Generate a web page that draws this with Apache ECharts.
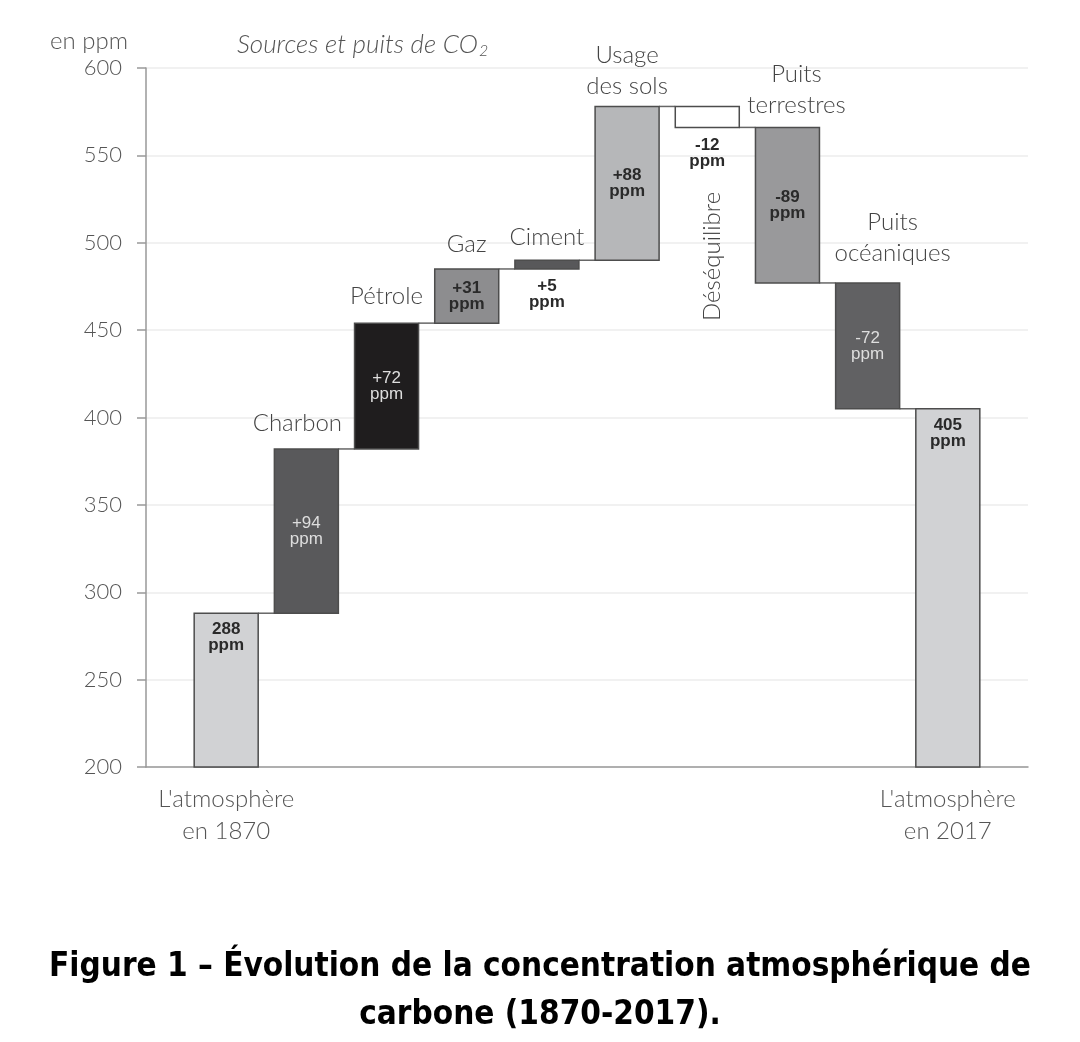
<!DOCTYPE html>
<html>
<head>
<meta charset="utf-8">
<script src="https://cdn.jsdelivr.net/npm/echarts@6/dist/echarts.min.js"></script>
<style>
  html, body { margin: 0; padding: 0; background: #fff; }
  #main { width: 1080px; height: 1042px; }
</style>
</head>
<body>
<div id="main"></div>
<script>
// data
var xLabels = ["L'atmosphère\nen 1870", '', '', '', '', '', '', '', '', "L'atmosphère\nen 2017"];
var barNames = ['', 'Charbon', 'Pétrole', 'Gaz', 'Ciment', 'Usage\ndes sols', 'Déséquilibre', 'Puits\nterrestres', 'Puits\nocéaniques', ''];
var changes = [288, 94, 72, 31, 5, 88, -12, -89, -72, 405];
var isTotal = [true, false, false, false, false, false, false, false, false, true];
var valueLabels = ['288\nppm', '+94\nppm', '+72\nppm', '+31\nppm', '+5\nppm', '+88\nppm', '-12\nppm', '-89\nppm', '-72\nppm', '405\nppm'];
var yMin = 200, yMax = 600, yStep = 50;

// styles
var barColors = ['#d1d2d4', '#59595b', '#1f1d1e', '#8d8d8f', '#58585a', '#b6b7b9', '#ffffff', '#99999b', '#616163', '#d1d2d4'];
var valueLabelPos = ['insideTop', 'inside', 'inside', 'inside', 'bottom', 'inside', 'bottom', 'inside', 'inside', 'insideTop'];
var valueLabelDark = [true, false, false, true, true, true, true, true, false, true];
var nameOffset = [[0, 0], [-9, -10], [0, -11], [0, -9], [0, -7], [0, -5], [5, 150], [9, -7], [25, -14], [0, 0]];

var FONT = 'Lato, "Open Sans", sans-serif';

// waterfall rows: [index, low, high, level after bar]
var rows = [];
var level = 0;
changes.forEach(function (c, i) {
  if (isTotal[i]) {
    level = c;
    rows.push([i, 0, c, level]);
  } else {
    var start = level;
    level = level + c;
    rows.push([i, Math.min(start, level), Math.max(start, level), level]);
  }
});

function renderItem(params, api) {
  var i = api.value(0), lo = api.value(1), hi = api.value(2), end = api.value(3);
  var top = api.coord([i, hi]);
  var bot = api.coord([i, lo]);
  var w = 64;
  var cs = params.coordSys;
  var rect = echarts.graphic.clipRectByRect(
    { x: top[0] - w / 2, y: top[1], width: w, height: bot[1] - top[1] },
    { x: cs.x, y: cs.y, width: cs.width, height: cs.height }
  );
  var children = [];
  if (i < changes.length - 1) {
    var a = api.coord([i, end]);
    var b = api.coord([i + 1, end]);
    children.push({
      type: 'line',
      shape: { x1: a[0] + w / 2, y1: a[1], x2: b[0] - w / 2, y2: b[1] },
      style: { stroke: '#666', lineWidth: 1.5 }
    });
  }
  children.push({
    type: 'rect',
    shape: rect,
    style: { fill: barColors[i], stroke: '#4d4d4d', lineWidth: 1.5 },
    textContent: {
      style: {
        text: valueLabels[i],
        fill: valueLabelDark[i] ? '#2a2a2a' : '#dedede',
        fontFamily: '"Liberation Sans", Arial, sans-serif',
        fontWeight: valueLabelDark[i] ? 'bold' : 'normal',
        fontSize: 17,
        lineHeight: 16,
        align: 'center'
      }
    },
    textConfig: { position: valueLabelPos[i], distance: 9 }
  });
  if (barNames[i]) {
    var vertical = barNames[i] === 'Déséquilibre';
    children.push({
      type: 'text',
      x: top[0] + nameOffset[i][0],
      y: top[1] + nameOffset[i][1],
      rotation: vertical ? Math.PI / 2 : 0,
      style: {
        text: barNames[i],
        fill: '#444',
        fontFamily: FONT,
        fontWeight: 300,
        fontSize: 24,
        lineHeight: 31,
        align: 'center',
        verticalAlign: vertical ? 'middle' : 'bottom'
      }
    });
  }
  return { type: 'group', children: children };
}

var myChart = echarts.init(document.getElementById('main'));
myChart.setOption({
  animation: false,
  title: [{
    text: 'Figure 1 – Évolution de la concentration atmosphérique de\ncarbone (1870-2017).',
    left: 'center',
    top: 938,
    textStyle: {
      fontFamily: '"DejaVu Sans", sans-serif',
      fontWeight: 'bold condensed',
      fontSize: 33,
      lineHeight: 48,
      color: '#000'
    }
  }, {
    text: 'en ppm',
    left: 45,
    top: 24,
    textStyle: { fontFamily: FONT, fontWeight: 300, fontSize: 24, color: '#555' }
  }, {
    text: '{a|Sources et puits de CO}{s|2}',
    left: 232,
    top: 26,
    textStyle: {
      rich: {
        a: { fontFamily: FONT, fontWeight: 300, fontStyle: 'italic', fontSize: 26, color: '#555' },
        s: { fontFamily: FONT, fontWeight: 300, fontStyle: 'italic', fontSize: 16, color: '#555', padding: [12, 0, 0, 1] }
      }
    }
  }],
  grid: { left: 146, right: 52, top: 68, bottom: 275 },
  xAxis: {
    type: 'value',
    min: -1,
    max: 10,
    interval: 1,
    axisLine: { onZero: false, lineStyle: { color: '#999', width: 1.5 } },
    axisTick: { show: false },
    splitLine: { show: false },
    axisLabel: {
      margin: 16,
      fontFamily: FONT,
      fontWeight: 300,
      fontSize: 24,
      lineHeight: 32,
      color: '#555',
      formatter: function (v) { return xLabels[v] || ''; }
    }
  },
  yAxis: {
    type: 'value',
    min: yMin,
    max: yMax,
    interval: yStep,
    axisLine: { show: true, onZero: false, lineStyle: { color: '#999', width: 1.5 } },
    axisTick: { show: true, length: 9, lineStyle: { color: '#999', width: 1.5 } },
    splitLine: { lineStyle: { color: '#ececec', width: 1.5 } },
    axisLabel: { margin: 24, fontFamily: FONT, fontWeight: 300, fontSize: 22, color: '#555' }
  },
  series: [{
    type: 'custom',
    renderItem: renderItem,
    encode: { x: 0, y: [1, 2] },
    data: rows
  }]
});
</script>
</body>
</html>
